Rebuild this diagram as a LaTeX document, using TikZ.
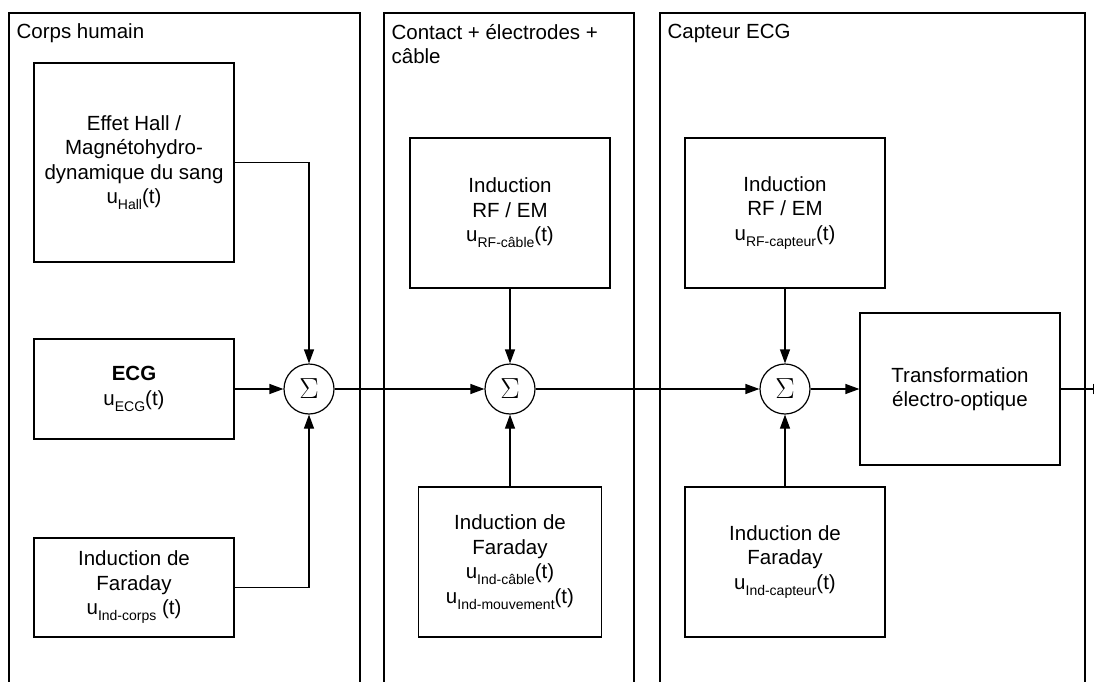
\documentclass[tikz,border=0pt]{standalone}
\usepackage{fontspec}
\usepackage{graphicx}
\setmainfont{Liberation Sans}
\usetikzlibrary{arrows.meta,positioning}
\newcommand{\sousind}[1]{\raisebox{-6pt}{\fontsize{14}{14}\selectfont #1}}

\begin{document}
\begin{tikzpicture}[x=1pt,y=-1pt,line width=1.2pt,on grid,
	font=\fontsize{20.5}{24.5}\selectfont,
	>={Triangle[length=14pt,width=10pt]},
	block/.style={draw,align=center,minimum width=200pt,minimum height=150pt,inner sep=2pt},
	somme/.style={draw,circle,minimum size=50pt,inner sep=0pt},
	titre/.style={anchor=base west,align=left,inner sep=0pt}]
	\useasboundingbox (0,0) rectangle (1094,682);
	% les trois blocs du systeme
	\draw (9,13) rectangle (360,700);
	\draw (384,13) rectangle (634,700);
	\draw (660,13) rectangle (1085,700);
	\node[titre] (t_corps) at (16,39) {Corps humain};
	\node[titre] (t_contact) at (391,64) {Contact + électrodes +\\câble};
	\node[titre] (t_capteur) at (667,39) {Capteur ECG};
	% sommateurs
	\node[somme] (sum1) at (309,389) {\scalebox{1.4}{$\Sigma$}};
	\node[somme] (sum2) [right=201pt of sum1] {\scalebox{1.4}{$\Sigma$}};
	\node[somme] (sum3) [right=275pt of sum2] {\scalebox{1.4}{$\Sigma$}};
	% sources
	\node[block,minimum height=199pt] (hall) at (134,162.5) {Effet Hall /\\Magnétohydro-\\dynamique du sang\\u\sousind{Hall}(t)};
	\node[block,minimum height=100pt] (ecg) [left=175pt of sum1] {\textbf{ECG}\\u\sousind{ECG}(t)};
	\node[block,minimum height=99pt] (farcorps) at (134,587.5) {Induction de\\Faraday\\u\sousind{Ind-corps} (t)};
	\node[block] (rfcable) [above=176pt of sum2] {Induction\\RF / EM\\u\sousind{RF-câble}(t)};
	\node[block,minimum width=183pt] (farcable) [below=173pt of sum2] {Induction de\\Faraday\\u\sousind{Ind-câble}(t)\\u\sousind{Ind-mouvement}(t)};
	\node[block] (rfcapt) [above=176pt of sum3] {Induction\\RF / EM\\u\sousind{RF-capteur}(t)};
	\node[block] (farcapt) [below=173pt of sum3] {Induction de\\Faraday\\u\sousind{Ind-capteur}(t)};
	\node[block,minimum height=152pt] (trans) [right=175pt of sum3] {Transformation\\électro-optique};
	\coordinate (sortie) at (1107,389);
	% liaisons
	\draw[->] (hall.east) -| (sum1.north);
	\draw[->] (ecg) -- (sum1);
	\draw[->] (farcorps.east) -| (sum1.south);
	\draw[->] (sum1) -- (sum2);
	\draw[->] (rfcable) -- (sum2);
	\draw[->] (farcable) -- (sum2);
	\draw[->] (sum2) -- (sum3);
	\draw[->] (rfcapt) -- (sum3);
	\draw[->] (farcapt) -- (sum3);
	\draw[->] (sum3) -- (trans);
	\draw[->] (trans) -- (sortie);
\end{tikzpicture}
\end{document}
